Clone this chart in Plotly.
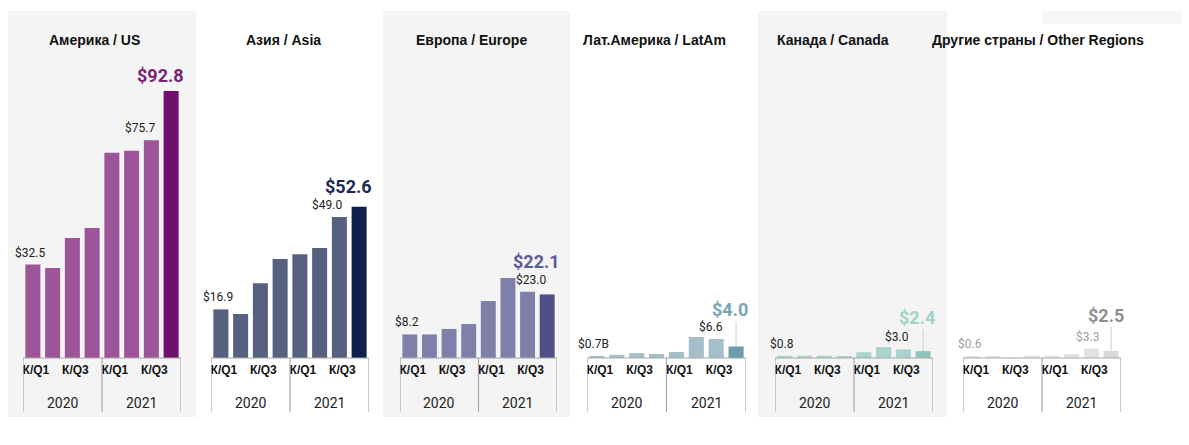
import plotly.graph_objects as go

# the page body keeps its default 8px margin, so the figure is drawn inset by that
OFF = 8
W, H = 1189 - 2 * OFF, 445 - 2 * OFF

titles = ["Америка / US", "Азия / Asia", "Европа / Europe",
          "Лат.Америка / LatAm", "Канада / Canada", "Другие страны / Other Regions"]
quarter_ticks = ["К/Q1", "К/Q3", "К/Q1", "К/Q3"]
years = ["2020", "2021"]

us = [32.5, 31.3, 41.7, 45.2, 71.3, 72.0, 75.7, 92.8]
asia = [16.9, 15.3, 26.0, 34.4, 36.1, 38.2, 49.0, 52.6]
europe = [8.2, 8.2, 10.1, 11.8, 19.8, 27.8, 23.0, 22.1]
latam = [0.7, 1.1, 1.7, 1.4, 2.1, 7.3, 6.6, 4.0]
canada = [0.8, 0.8, 0.8, 0.5, 2.0, 3.8, 3.0, 2.4]
other = [0.6, 0.5, 0.3, 0.8, 0.8, 1.4, 3.3, 2.5]

first_labels = ["$32.5", "$16.9", "$8.2", "$0.7B", "$0.8", "$0.6"]
q3_labels = ["$75.7", "$49.0", "$23.0", "$6.6", "$3.0", "$3.3"]
last_labels = ["$92.8", "$52.6", "$22.1", "$4.0", "$2.4", "$2.5"]

series = [us, asia, europe, latam, canada, other]

# styling per panel
bar_colors = ["#9c5599", "#56617f", "#7f80aa", "#a4bfca", "#a9d3cd", "#e2e2e2"]
last_colors = ["#700f6f", "#101f4b", "#505088", "#6f9aac", "#8ec6bd", "#d9d9d9"]
big_colors = ["#7b1c7b", "#1b2a55", "#5b5b9b", "#7aa4b6", "#9fd2c9", "#8f8f8f"]
small_colors = ["#222222"] * 5 + ["#a0a0a0"]
ax_left = [23, 211, 400, 587, 775, 963]
ax_right = [181, 369, 557, 746, 933, 1121]
title_cx = [94, 283, 471, 654, 833, 1038]
q3_xshift = [-11, -12, 3, -5, -6, -4]
big_yshift = [16, 20, 33, 37, 34, 35]
big_xshift = [-11, -11, -11, -6, -6, -5]
leader = [0, 0, 0, 25, 22, 24]
gray_panels = [(8, 196), (383, 570), (758, 947)]

base_px, top_px = 358, 11
ymax = (base_px - top_px) / 2.877


def px_x(p):
    return (p - OFF) / W


def px_y(p):
    return 1 - (p - OFF) / H


fig = go.Figure()
shapes = []
annotations = []

for x0, x1 in gray_panels:
    shapes.append(dict(type="rect", xref="paper", yref="paper", layer="below",
                       x0=px_x(x0), x1=px_x(x1), y0=px_y(417), y1=px_y(11),
                       fillcolor="#f4f4f4", line_width=0))
shapes.append(dict(type="rect", xref="paper", yref="paper", layer="below",
                   x0=px_x(1042), x1=1, y0=px_y(24), y1=px_y(11),
                   fillcolor="#f7f7f7", line_width=0))

for i, vals in enumerate(series):
    n = i + 1
    xa = "x" if n == 1 else f"x{n}"
    ya = "y" if n == 1 else f"y{n}"
    colors = [bar_colors[i]] * 7 + [last_colors[i]]
    fig.add_trace(go.Bar(x=list(range(8)), y=vals, marker_color=colors,
                         marker_line_width=0, xaxis=xa, yaxis=ya,
                         showlegend=False, hoverinfo="y"))
    fig.layout[f"xaxis{n}"] = dict(
        domain=[px_x(ax_left[i]), px_x(ax_right[i])], range=[-0.5, 7.5],
        anchor=ya, tickvals=[0, 2, 4, 6],
        ticktext=[f"<b>{t}</b>" for t in quarter_ticks],
        tickfont=dict(family="Liberation Sans", size=12, color="#111111"),
        ticks="", ticklabelstandoff=3, ticklabelshift=3,
        showgrid=False, zeroline=False, showline=False, fixedrange=True,
    )
    fig.layout[f"yaxis{n}"] = dict(
        domain=[px_y(base_px), px_y(top_px)], range=[0, ymax], anchor=xa,
        visible=False, fixedrange=True,
    )

    # bracket box under the bars
    line = dict(color="#a8a8a8", width=1.2)
    shapes.append(dict(type="line", xref=xa, yref="paper", x0=-0.5, x1=7.5,
                       y0=px_y(base_px), y1=px_y(base_px), line=line))
    for xv in (-0.5, 3.5, 7.5):
        shapes.append(dict(type="line", xref=xa, yref="paper", x0=xv, x1=xv,
                           y0=px_y(base_px), y1=px_y(412), line=line))
    for k, yr in enumerate(years):
        annotations.append(dict(xref=xa, yref="paper", x=1.5 + 4 * k, y=px_y(403),
                                text=yr, showarrow=False, xanchor="center",
                                yanchor="middle",
                                font=dict(family="Roboto", size=14, color="#222222")))

    annotations.append(dict(xref="paper", yref="paper", x=px_x(title_cx[i]),
                            y=px_y(40), text=f"<b>{titles[i]}</b>", showarrow=False,
                            xanchor="center", yanchor="middle",
                            font=dict(family="Liberation Sans", size=14, color="#111111")))

    annotations.append(dict(xref=xa, yref=ya, x=0, y=vals[0], text=first_labels[i],
                            showarrow=False, yanchor="middle", yshift=12, xshift=-3,
                            font=dict(family="Roboto", size=12, color=small_colors[i])))
    annotations.append(dict(xref=xa, yref=ya, x=6, y=vals[6], text=q3_labels[i],
                            showarrow=False, yanchor="middle", yshift=12,
                            xshift=q3_xshift[i],
                            font=dict(family="Roboto", size=12, color=small_colors[i])))
    annotations.append(dict(xref=xa, yref=ya, x=7, y=vals[7],
                            text=f"<b>{last_labels[i]}</b>",
                            showarrow=False, yanchor="middle", yshift=big_yshift[i],
                            xshift=big_xshift[i],
                            font=dict(family="Roboto", size=18, color=big_colors[i])))
    if leader[i]:
        shapes.append(dict(type="line", xref=xa, yref=ya, ysizemode="pixel",
                           yanchor=vals[7], x0=7, x1=7, y0=0, y1=leader[i],
                           line=dict(color="#cccccc", width=1)))

fig.update_layout(
    width=W, height=H, margin=dict(l=0, r=0, t=0, b=0),
    paper_bgcolor="white", plot_bgcolor="rgba(0,0,0,0)",
    bargap=0.24, shapes=shapes, annotations=annotations,
)

fig.write_html("out.html")
